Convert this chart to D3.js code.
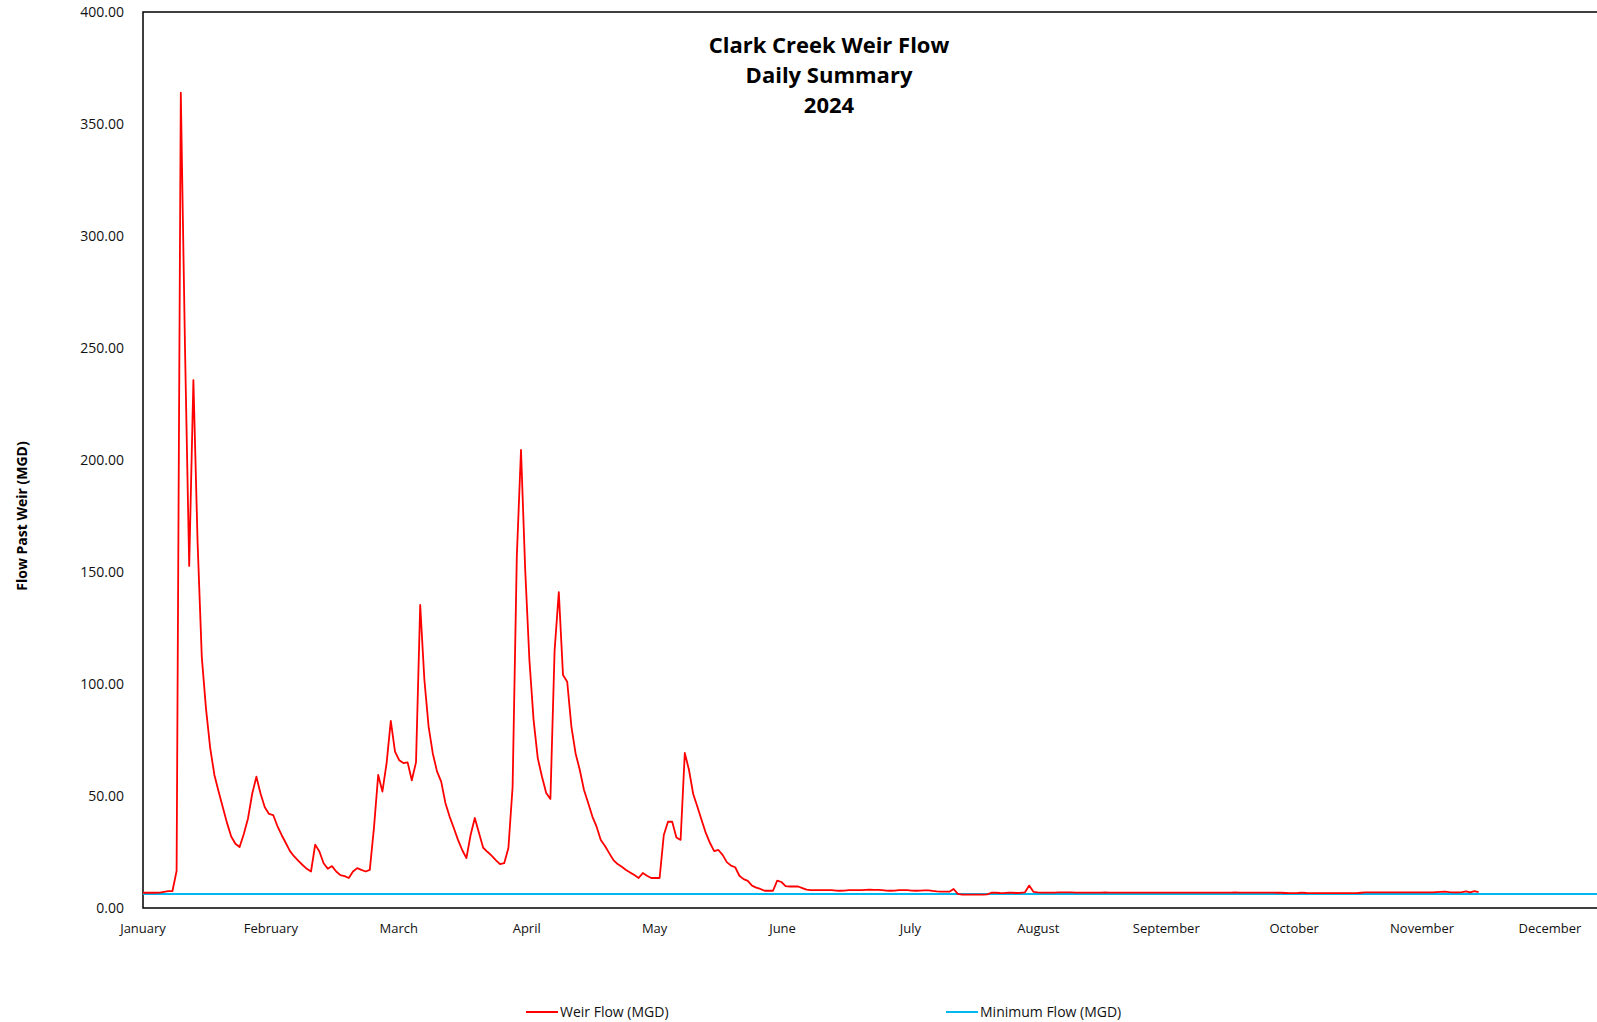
<!DOCTYPE html>
<html>
<head>
<meta charset="utf-8">
<script src="https://cdn.jsdelivr.net/npm/d3@7"></script>
<style>
  body { margin: 0; background: #fff; }
  svg { display: block; font-family: "Open Sans", "Liberation Sans", sans-serif; }
</style>
</head>
<body>
<div id="chart"></div>
<script>
// daily weir flow (MGD), starting 2024-01-01
const weirFlow = [
  // Jan
  6.8,6.8,6.8,6.8,6.9,7.2,7.5,7.5,16.5,364,250,152.7,235.7,163,112,89,71.4,59.4,52,45,38,31.9,28.7,27.2,33,40,51,58.6,51,45,42,
  // Feb
  41.5,36.6,32.6,29,25.4,23,21,19.2,17.5,16.3,28.3,25.2,20,17.5,18.7,16.3,14.7,14.2,13.4,16.3,17.8,17,16.3,17,36,59.4,52,64.7,83.5,
  // Mar
  69.8,66,64.7,65,57,65,135.3,101.8,81,69,61,56.4,46.9,40.8,35.7,30.4,25.9,22.3,32.6,40.2,33.5,26.9,25.1,23.4,21.4,19.6,20,26.8,54,156.8,204.5,
  // Apr
  151,110.7,83.9,66.8,58.6,51.3,48.7,115,141,104,101,81,69,61.6,52.7,46.9,40.8,36.3,30.4,27.7,24.5,21.4,19.6,18.4,17,15.8,14.7,13.4,15.6,14.4,
  // May
  13.4,13.4,13.4,32.6,38.5,38.5,31.5,30.4,69.2,61.6,50.9,45.2,39.3,33.5,29,25.4,25.9,23.7,20.5,18.9,18.2,14.4,12.9,12.1,10,9.1,8.5,7.7,7.7,7.7,12.2,
  // Jun
  11.6,9.8,9.6,9.6,9.6,8.9,8.2,8.0,8.0,8.0,8.0,8.0,8.0,7.8,7.7,7.8,8.0,8.0,8.0,8.0,8.1,8.2,8.1,8.1,8.0,7.8,7.7,7.8,8.0,8.0,
  // Jul
  8.0,7.8,7.7,7.8,7.9,7.9,7.6,7.4,7.3,7.3,7.3,8.5,6.3,6.0,6.0,6.0,6.0,6.0,6.0,6.1,6.8,6.9,6.7,6.6,6.9,6.8,6.7,6.8,7.0,10.0,7.2,
  // Aug
  7.0,6.9,6.9,6.9,6.9,7.0,7.0,7.0,7.0,6.9,6.9,6.9,6.9,6.9,6.9,6.9,7.0,6.9,6.9,6.9,6.9,6.9,6.9,6.9,6.9,6.9,6.9,6.9,6.9,6.9,6.9,
  // Sep
  6.9,6.9,6.9,6.9,6.9,6.9,6.9,6.9,6.9,6.9,6.9,6.9,6.9,6.9,6.9,6.9,7.0,6.9,6.9,6.9,6.9,6.9,6.9,6.9,6.9,6.9,6.8,6.8,6.7,6.6,
  // Oct
  6.6,6.7,6.9,6.7,6.6,6.6,6.6,6.6,6.6,6.6,6.6,6.6,6.6,6.6,6.6,6.6,6.8,7.0,7.0,7.0,7.0,7.0,7.0,7.0,7.0,7.0,7.0,7.0,7.0,7.0,7.0,
  // Nov (partial)
  7.0,7.0,7.0,7.1,7.2,7.3,7.1,7.0,7.0,7.1,7.4,7.0,7.5,7.1
];
const minFlowLevel = 6.3;
const monthLabels = ["January","February","March","April","May","June","July","August","September","October","November","December"];
const yTicks = [0,50,100,150,200,250,300,350,400];
const titleLines = ["Clark Creek Weir Flow","Daily Summary","2024"];

const width = 1597, height = 1022;
const plotLeft = 143, plotTop = 12, plotBottom = 908;
const start = new Date(Date.UTC(2024, 0, 1));
const end = new Date(Date.UTC(2024, 11, 31));

const svg = d3.select("#chart").append("svg")
  .attr("width", width).attr("height", height);

const x = d3.scaleUtc().domain([start, end]).range([plotLeft, plotLeft + 365 * 4.2]);
const y = d3.scaleLinear().domain([0, 400]).range([plotBottom, plotTop]);
const day = (i) => d3.utcDay.offset(start, i);

// month labels sit at even steps between Jan 1 and Dec 1
const labelX = d3.scaleLinear().domain([0, 11])
  .range([x(start), x(new Date(Date.UTC(2024, 11, 1)))]);

svg.append("defs").append("clipPath").attr("id", "clip")
  .append("rect").attr("x", plotLeft).attr("y", 0).attr("width", width - plotLeft).attr("height", height);

// plot border
svg.append("rect").attr("x", plotLeft).attr("y", plotTop)
  .attr("width", x(end) - plotLeft).attr("height", plotBottom - plotTop)
  .attr("fill", "none").attr("stroke", "#000").attr("stroke-width", 1.5);

// y labels
svg.append("g").selectAll("text").data(yTicks).join("text")
  .attr("x", 124).attr("y", (d) => y(d) + 5)
  .attr("text-anchor", "end").attr("font-size", 14).attr("fill", "#111")
  .text((d) => d.toFixed(2));

// x labels
svg.append("g").selectAll("text").data(monthLabels).join("text")
  .attr("x", (d, i) => labelX(i))
  .attr("y", 933)
  .attr("text-anchor", "middle").attr("font-size", 13).attr("fill", "#111")
  .text((d) => d);

const g = svg.append("g").attr("clip-path", "url(#clip)");

g.append("path")
  .datum([start, end])
  .attr("fill", "none").attr("stroke", "#00B8F0").attr("stroke-width", 2)
  .attr("d", d3.line().x((d) => x(d)).y(() => y(minFlowLevel)));

g.append("path")
  .datum(weirFlow)
  .attr("fill", "none").attr("stroke", "#FF0000").attr("stroke-width", 1.8)
  .attr("stroke-linejoin", "round")
  .attr("d", d3.line().x((d, i) => x(day(i))).y((d) => y(d)));

// title
svg.append("g").selectAll("text").data(titleLines).join("text")
  .attr("x", 829).attr("y", (d, i) => 53 + i * 30)
  .attr("text-anchor", "middle").attr("font-size", 22).attr("font-weight", "bold")
  .text((d) => d);

// y axis title
svg.append("text")
  .attr("transform", "translate(27,516) rotate(-90)")
  .attr("text-anchor", "middle").attr("font-size", 14).attr("font-weight", "bold")
  .text("Flow Past Weir (MGD)");

// legend
const legend = [
  { label: "Weir Flow (MGD)", color: "#FF0000", x: 526 },
  { label: "Minimum Flow (MGD)", color: "#00B8F0", x: 946 }
];
const lg = svg.append("g").selectAll("g").data(legend).join("g")
  .attr("transform", (d) => `translate(${d.x},1012)`);
lg.append("line").attr("x1", 0).attr("x2", 32).attr("y1", 0).attr("y2", 0)
  .attr("stroke", (d) => d.color).attr("stroke-width", 2);
lg.append("text").attr("x", 34).attr("y", 5).attr("font-size", 14).attr("fill", "#111")
  .text((d) => d.label);
</script>
</body>
</html>
